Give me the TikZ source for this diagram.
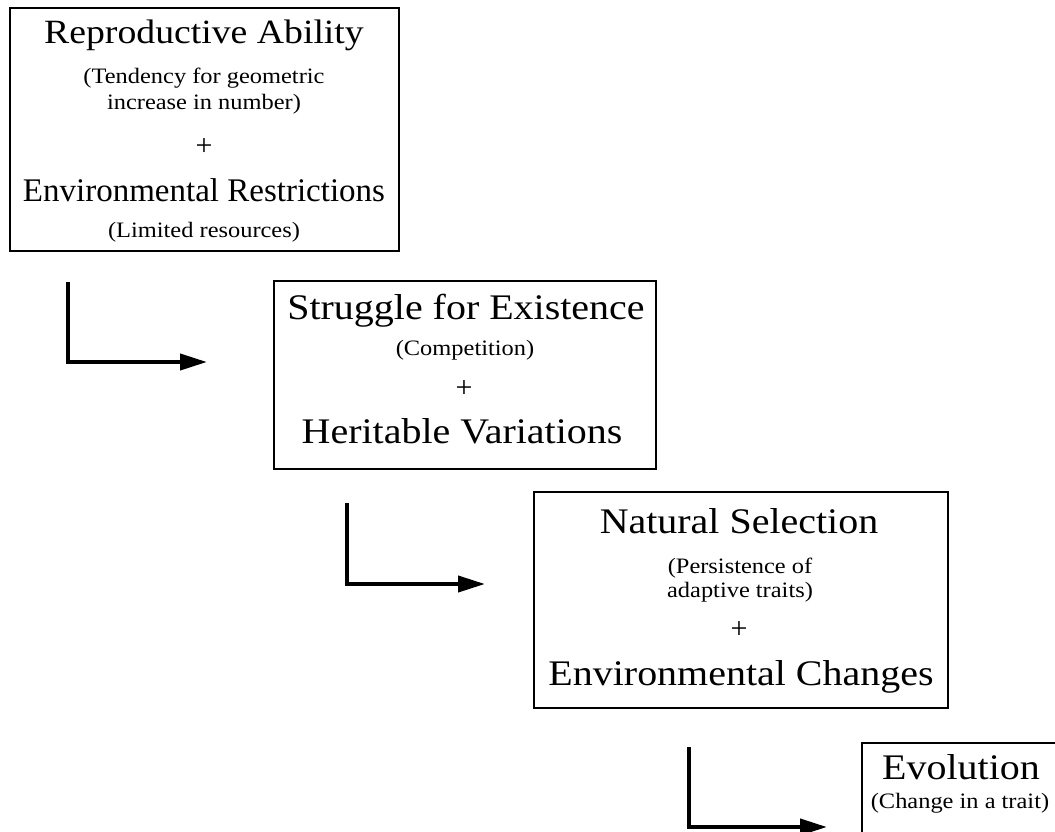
\documentclass[tikz,border=0pt]{standalone}
\usepackage{fontspec}
\setmainfont{Liberation Serif}
\newfontfamily\wideserif[FakeStretch=1.11]{Liberation Serif}
\usetikzlibrary{arrows.meta}
\tikzset{
  boxframe/.style={draw=black, line width=1.6pt, inner sep=0pt, anchor=north west},
  bigtxt/.style={anchor=base, inner sep=0pt, font=\wideserif\fontsize{36}{40}\selectfont},
  bigAtxt/.style={anchor=base, inner sep=0pt, font=\wideserif\fontsize{34}{40}\selectfont},
  bigBtxt/.style={anchor=base, inner sep=0pt, font=\fontsize{33}{40}\selectfont},
  smalltxt/.style={anchor=base, inner sep=0pt, font=\wideserif\fontsize{22}{26}\selectfont},
  plustxt/.style={anchor=center, inner sep=0pt, font=\fontsize{30}{36}\selectfont},
  elbow/.style={line width=4pt, -{Triangle[length=27pt,width=16pt]}}
}
\begin{document}
\begin{tikzpicture}[x=1pt,y=-1pt]
\useasboundingbox (0,0) rectangle (1055,831);
\fill[white] (0,0) rectangle (1055,831);
\clip (0,0) rectangle (1055,831);
% box 1
\node[boxframe, minimum width=389pt, minimum height=243pt] (b1) at (9,7) {};
\node[bigAtxt] (t1a) at (204,43) {Reproductive Ability};
\node[smalltxt] (t1b) at (204,83) {(Tendency for geometric};
\node[smalltxt] (t1c) at (204,109) {increase in number)};
\node[plustxt] (t1d) at (204,147) {+};
\node[bigBtxt] (t1e) at (204,201) {Environmental Restrictions};
\node[smalltxt] (t1f) at (204,237) {(Limited resources)};
% box 2
\node[boxframe, minimum width=382pt, minimum height=188pt] (b2) at (273,280) {};
\node[bigtxt] (t2a) at (466,319) {Struggle for Existence};
\node[smalltxt] (t2b) at (465,355) {(Competition)};
\node[plustxt] (t2c) at (464,389) {+};
\node[bigtxt] (t2d) at (462,443) {Heritable Variations};
% box 3
\node[boxframe, minimum width=414pt, minimum height=216pt] (b3) at (533,491) {};
\node[bigtxt] (t3a) at (739,533) {Natural Selection};
\node[smalltxt] (t3b) at (740,573) {(Persistence of};
\node[smalltxt] (t3c) at (740,597) {adaptive traits)};
\node[plustxt] (t3d) at (739,630) {+};
\node[bigtxt] (t3e) at (741,685) {Environmental Changes};
% box 4 (runs past the picture's edge)
\node[boxframe, minimum width=220pt, minimum height=120pt] (b4) at (861,742) {};
\node[bigtxt] (t4a) at (961,779) {Evolution};
\node[smalltxt] (t4b) at (960,808) {(Change in a trait)};
% arrows
\coordinate (a1s) at (68,282);
\coordinate (a1e) at (207,362);
\coordinate (a2s) at (347,503);
\coordinate (a2e) at (485,584);
\coordinate (a3s) at (689,747);
\coordinate (a3e) at (827,827);
\draw[elbow] (a1s) |- (a1e);
\draw[elbow] (a2s) |- (a2e);
\draw[elbow] (a3s) |- (a3e);
\end{tikzpicture}
\end{document}
